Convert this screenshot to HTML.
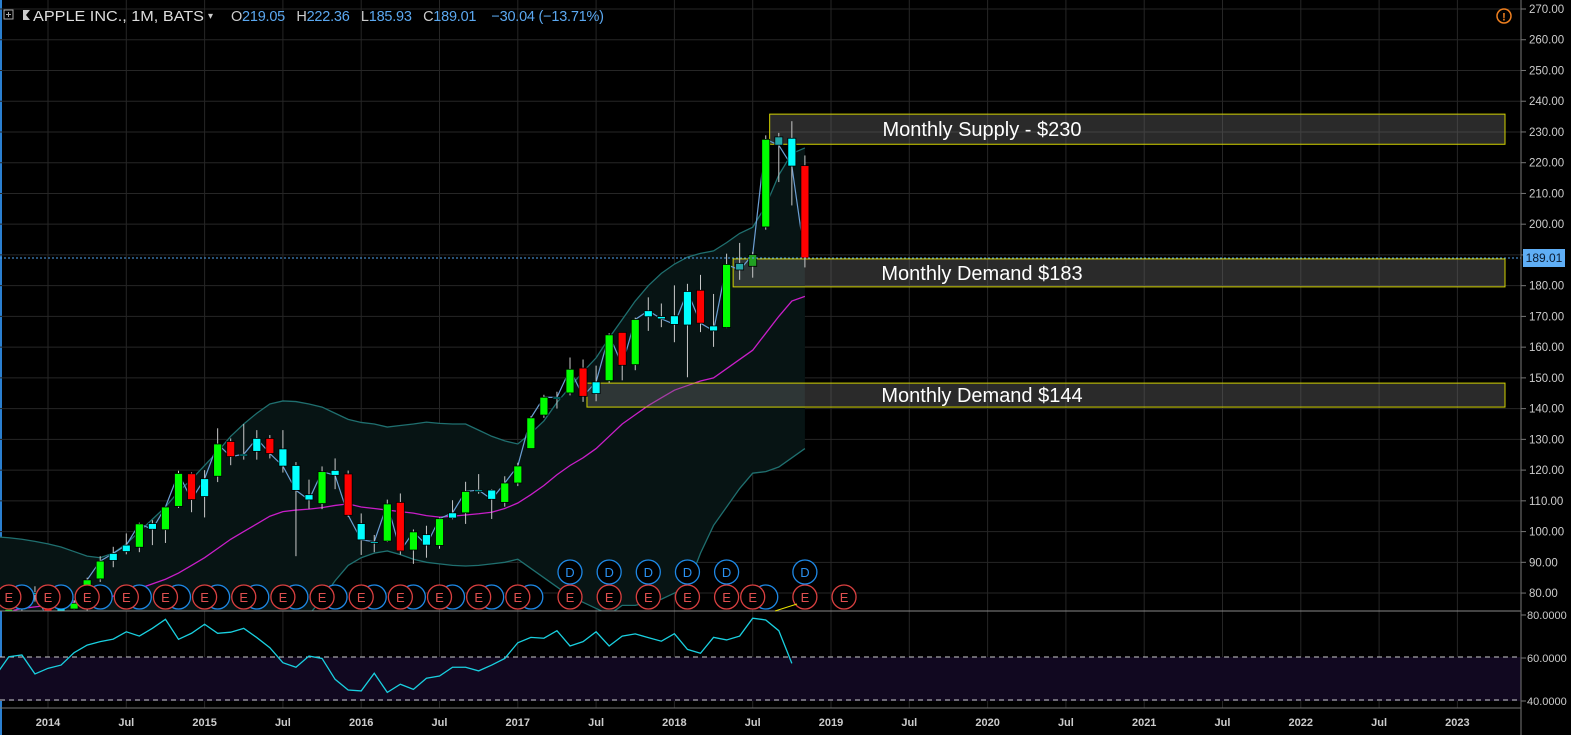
<!DOCTYPE html>
<html><head><meta charset="utf-8"><style>
html,body{margin:0;padding:0;background:#000;width:1571px;height:735px;overflow:hidden}
svg{display:block}
text{font-family:"Liberation Sans",sans-serif}
</style></head><body>
<svg id="chart" width="1571" height="735" viewBox="0 0 1571 735" xmlns="http://www.w3.org/2000/svg">
<defs>
<clipPath id="pc"><rect x="0" y="0" width="1521" height="611"/></clipPath>
<clipPath id="rc"><rect x="0" y="612" width="1521" height="96"/></clipPath>
</defs>
<rect x="0" y="0" width="1571" height="735" fill="#000"/>
<rect x="0" y="0" width="2" height="735" fill="#2a7fd0"/>
<g id="grid"></g>
<rect x="0" y="657" width="1521" height="44" fill="#110820"/>
<g id="bb" clip-path="url(#pc)"></g>
<g id="zones"></g>
<g id="candles" clip-path="url(#pc)"></g>
<g id="events"></g>
<line x1="0" y1="258" x2="1521" y2="258" stroke="#4fa3f0" stroke-dasharray="2,2"/>
<line x1="0" y1="611" x2="1521" y2="611" stroke="#888"/>
<line x1="0" y1="708" x2="1521" y2="708" stroke="#777"/>
<line x1="0" y1="657" x2="1521" y2="657" stroke="#ccc" stroke-dasharray="5,4"/>
<line x1="0" y1="700" x2="1521" y2="700" stroke="#ccc" stroke-dasharray="5,4"/>
<g id="rsi" clip-path="url(#rc)"></g>
<line x1="775" y1="611" x2="797" y2="604" stroke="#e8e000"/>
<line x1="1521" y1="0" x2="1521" y2="735" stroke="#777"/>
<g id="yaxis"></g>
<g id="xaxis"></g>
<rect x="1523" y="249" width="42" height="18" fill="#5faef5"/>
<text x="1544" y="262" font-size="12" fill="#0a1a30" text-anchor="middle">189.01</text>
<g><circle cx="1504" cy="16" r="7" fill="none" stroke="#f08020" stroke-width="1.5"/><text x="1504" y="20.5" font-size="11" fill="#f08020" text-anchor="middle" font-weight="bold">!</text></g>
<g>
<rect x="4" y="10" width="9" height="9" fill="none" stroke="#aaa"/>
<line x1="8.5" y1="12" x2="8.5" y2="17" stroke="#aaa"/><line x1="6" y1="14.5" x2="11" y2="14.5" stroke="#aaa"/>
<path d="M23 10 L23 20 L30 20 L26 15 L30 10 Z" fill="#ccc"/>
<text x="33" y="21" font-size="15" fill="#ddd" textLength="171" lengthAdjust="spacingAndGlyphs">APPLE INC., 1M, BATS</text>
<text x="208" y="19" font-size="10" fill="#ccc">▾</text>
<text x="231" y="21" font-size="14.5" fill="#ccc" xml:space="preserve" textLength="373" lengthAdjust="spacing">O<tspan fill="#5ba8f0">219.05</tspan>   H<tspan fill="#5ba8f0">222.36</tspan>   L<tspan fill="#5ba8f0">185.93</tspan>   C<tspan fill="#5ba8f0">189.01</tspan>    <tspan fill="#5ba8f0">−30.04 (−13.71%)</tspan></text>
</g>
</svg>
<script>
// months index m from -4 (Sep 2013) to 58 (Nov 2018) for bands; candles from -3
const startMonth = -3;
const opens  = [68.3,74.9,79.7, 80.1,71.8,74.8,76.8,84.6,90.6,93.5,94.9,102.6,100.6,108.2,118.8, 111.4,118,129.3,124.8,126.1,130.3,126.9,121.5,112,109.1,119.9,118.75, 102.6,96.5,96.9,109.5,94,99,95.5,104.4,106.1,113.5,113.5,109.5, 115.8,127,137.9,143.7,145.1,153.2,144.9,149.1,164.8,154.3,169.9,169.95, 170.2,167.2,178.5,166.9,166.4,187.25,186.3,199.1,228.4,227.95,219.05];
const highs  = [77,79.9,82.2, 80.2,78.7,77.7,85,92,95.05,99.4,102.9,103.7,108,119.8,119.25, 120,133.6,130.3,135,133,131.4,133,122.6,116.9,121.2,123.8,119.86, 105.9,98.9,110.4,112.4,100.7,101.9,104.6,110.2,116.2,118.7,113.8,118, 122.4,137.5,144.5,145.5,156.65,155.98,153.99,164.5,164.9,169.6,176.2,174.2, 180.1,180.6,183.5,177.3,190.4,193.9,191,228.9,229.7,233.5,222.36];
const lows   = [68.3,74.3,77.2, 70.5,71.3,74.6,73,83.6,88.4,92.6,93.3,95.6,96.3,107.7,106.3, 104.6,116.1,121.6,123.4,123.4,123.8,119.2,92,107.4,107.3,113.8,104.8, 92.4,93.3,96.6,92.5,89.5,91.5,94.4,104,102.5,112.3,104.1,108.1, 114.8,127,137,140,144.3,142.2,142.4,148.4,149.2,152.5,165.3,166.5, 161.6,150.2,164.9,160.1,166.2,181.9,182.6,198.2,213.7,206.1,185.93];
const closes = [74.7,79.4,80.1, 71.5,75.2,76.7,84.3,90.4,92.9,95.6,102.5,100.75,108,118.9,110.4, 117.2,128.5,124.4,125.15,130.3,125.4,121.3,113.4,110.3,119.5,118.3,105.3, 97.3,96.7,108.99,93.7,99.9,95.6,104.2,106.1,113.05,113.5,110.5,115.8, 121.35,136.99,143.7,143.65,152.8,144,148.7,164,154.1,169,171.85,169.2, 167.4,178.1,167.8,165.3,186.9,185.1,190.1,227.6,225.7,218.9,189.01];
const candleColors = ["G","G","C", "R","C","G","G","G","C","C","G","C","G","G","R", "C","G","R","C","C","R","C","C","C","G","C","R", "C","C","G","R","G","C","G","C","G","C","C","G", "G","G","G","C","G","R","C","G","R","G","C","C", "C","C","R","C","G","T","D","G","T","C","R"];
const bbStart = -4;
const bbUpper = [98.3,98,97.5,96.8,96,95,93.5,92,91.5,93,96,100,104,108,113,117,121.5,126,131,135,138.5,141.5,142.5,142.3,141.5,140.5,138.5,136.5,135.5,135,134,134.5,135,135.6,135.2,135,135,133,131,129.5,128.5,132,136,142,147,152,156.5,163,169,175,180,184,187,189.3,190.5,191.3,194,197,199,206,216,223,224.8];
const bbBasis = [73,74,75,75.5,76,76.5,77,77.5,78,79,80,81.5,83,84.5,86.5,89,91.5,94.5,97.5,100,102.5,105,106.5,107,107.3,107.8,108.5,109,108,107.5,107,106.5,106,105.2,104.7,105,105.4,105.8,106.3,107.5,109.3,112,115,118.5,121.5,124,127,131,135,138,141,143.5,146,147.5,149,150,153,156,159,164.5,170,175,176.5];
const bbLower = [60,60,60,60,60,60,60,60,60,60,60,60,60,60,60,60,60,60,60,60,60,60,60,60,73,78,84,89,91.5,93,93.7,92.5,91,90,89.5,89,88.8,89,89.5,90,91,88,85,82,79,77,75,73,76,76,77,78,80,82,93,102,108,114,119,119.5,121,124,127];
const rsiStart = -4;
const rsiValues = [52,60.6,61.4,52.6,55.2,56.7,62.5,66.0,67.6,68.8,72.2,70.2,73.8,78.0,68.7,71.5,75.7,71.5,72.0,73.8,69.5,64.8,57.8,55.7,60.9,59.8,50.1,45.1,44.7,52.9,44.0,47.8,45.4,50.6,51.6,55.7,55.7,54.0,56.7,59.8,67.1,69.6,69.2,72.7,65.6,67.6,72.2,65.6,70.2,71.2,69.5,67.8,71.3,64.0,62.2,69.6,68.4,70.2,78.5,77.7,72.7,57.5];
const priceTicks = [270,260,250,240,230,220,210,200,190,180,170,160,150,140,130,120,110,100,90,80];
const rsiTicks = [80,60,40];
const timeLabels = ["2014","Jul","2015","Jul","2016","Jul","2017","Jul","2018","Jul","2019","Jul","2020","Jul","2021","Jul","2022","Jul","2023"];
const earningsMonths = [-3,0,3,6,9,12,15,18,21,24,27,30,33,36,40,43,46,49,52,54,58,61];
const dividendMonths = [40,43,46,49,52,58];
const zoneLabels = ["Monthly Supply - $230","Monthly Demand $183","Monthly Demand $144"];
const zoneTop = [235.8,188.7,148.3];
const zoneBottom = [226,179.6,140.5];
const zoneStart = [55.3,52.5,41.3];

const NS="http://www.w3.org/2000/svg";
const X = m => 48 + m*13.05;
const Y = p => 9 + (270-p)*3.074;
const RY = v => 615 + (80-v)*2.15;
const COL = {G:"#00ff00",R:"#ff0000",C:"#00ffff",T:"#26a6a6",D:"#22a022"};
function mk(tag, attrs, parent){const e=document.createElementNS(NS,tag);for(const k in attrs)e.setAttribute(k,attrs[k]);parent.appendChild(e);return e;}

const grid=document.getElementById('grid'), ya=document.getElementById('yaxis'), xa=document.getElementById('xaxis');
priceTicks.forEach(p=>{
  const l=mk('line',{x1:0,x2:1521,y1:Y(p),y2:Y(p),stroke:'#262626'},grid);
  
  
  const tk=mk('line',{x1:1521,x2:1526,y1:Y(p),y2:Y(p),stroke:'#777'},ya);
  
  
  const t=mk('text',{x:1529,y:Y(p)+4,'font-size':11.5,fill:'#ccc'},ya);
  t.textContent=p.toFixed(2);
  
  
});
rsiTicks.forEach(v=>{
  const tk=mk('line',{x1:1521,x2:1526,y1:RY(v),y2:RY(v),stroke:'#777'},ya);
  
  
  const t=mk('text',{x:1527,y:RY(v)+4,'font-size':11,fill:'#ccc'},ya);
  t.textContent=v.toFixed(4);
  
  
});
timeLabels.forEach((s,i)=>{
  const x=X(i*6);
  const l=mk('line',{x1:x,x2:x,y1:0,y2:708,stroke:'#262626'},grid);
  
  
  const t=mk('text',{x:x,y:726,'font-size':11,'font-weight':'bold',fill:'#ccc','text-anchor':'middle'},xa);
  t.textContent=s;
  
  
});

const bb=document.getElementById('bb');
const up=bbUpper.map((v,i)=>X(i+bbStart)+','+Y(v));
const lo=bbLower.map((v,i)=>X(i+bbStart)+','+Y(v));
const fill=mk('polygon',{points:up.concat(lo.slice().reverse()).join(' '),fill:'#071414'},bb);


const pu=mk('polyline',{points:up.join(' '),fill:'none',stroke:'#1f6f6f','stroke-width':1.3},bb);


const pl=mk('polyline',{points:lo.join(' '),fill:'none',stroke:'#1f6f6f','stroke-width':1.3},bb);


const pb=mk('polyline',{points:bbBasis.map((v,i)=>X(i+bbStart)+','+Y(v)).join(' '),fill:'none',stroke:'#c81ec8','stroke-width':1.3},bb);



const zg=document.getElementById('zones');
zoneLabels.forEach((s,i)=>{
  const x0=X(zoneStart[i]), y0=Y(zoneTop[i]), y1=Y(zoneBottom[i]);
  const r=mk('rect',{x:x0,y:y0,width:1505-x0,height:y1-y0,fill:'rgba(110,110,110,0.38)',stroke:'#d2d200','stroke-width':1},zg);
  
  
  const t=mk('text',{x:982,y:(y0+y1)/2+7,'font-size':20,fill:'#fff','text-anchor':'middle'},zg);
  t.textContent=s;
  
  
});

const cg=document.getElementById('candles');
const cl=mk('polyline',{points:closes.map((v,i)=>X(i+startMonth)+','+Y(v)).join(' '),fill:'none',stroke:'#6c9fd4','stroke-width':1.2},cg);


closes.forEach((c,i)=>{
  const x=X(i+startMonth), o=opens[i];
  const w=mk('line',{x1:x,x2:x,y1:Y(highs[i]),y2:Y(lows[i]),stroke:'#c8c8c8','stroke-width':1},cg);
  
  
  const top=Y(Math.max(o,c)), bot=Y(Math.min(o,c));
  const b=mk('rect',{x:x-4,y:top,width:8,height:Math.max(1.5,bot-top),fill:COL[candleColors[i]],stroke:'#000','stroke-width':0.8},cg);
  
  
});

const eg=document.getElementById('events');
earningsMonths.forEach(m=>{
  if(m<=36){
    const bc=mk('circle',{cx:X(m)+13,cy:597,r:12,fill:'#000',stroke:'#1e88e5','stroke-width':1.3},eg);
    
    
  }
});
const dx=mk('circle',{cx:X(55),cy:597,r:12,fill:'#000',stroke:'#1e88e5','stroke-width':1.3},eg);


earningsMonths.forEach(m=>{
  const c=mk('circle',{cx:X(m),cy:597,r:12,fill:'#000',stroke:'#d94040','stroke-width':1.3},eg);
  
  
  const t=mk('text',{x:X(m),y:602,'font-size':13,fill:'#e05050','text-anchor':'middle'},eg);
  t.textContent='E';
  
  
});
dividendMonths.forEach(m=>{
  const c=mk('circle',{cx:X(m),cy:572,r:12,fill:'#000',stroke:'#1e88e5','stroke-width':1.3},eg);
  
  
  const t=mk('text',{x:X(m),y:577,'font-size':13,fill:'#2a90f0','text-anchor':'middle'},eg);
  t.textContent='D';
  
  
});

const rg=document.getElementById('rsi');
const rl=mk('polyline',{points:rsiValues.map((v,i)=>X(i+rsiStart)+','+RY(v)).join(' '),fill:'none',stroke:'#19d0e0','stroke-width':1.3},rg);


</script>
</body></html>
